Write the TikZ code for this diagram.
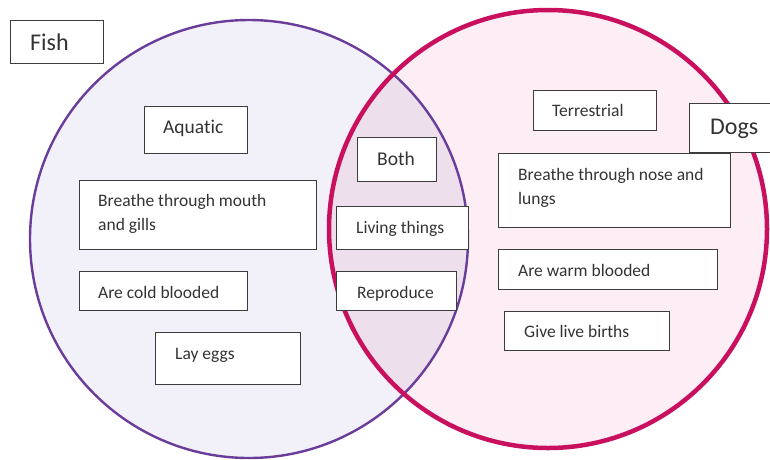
\documentclass[tikz,border=0pt]{standalone}
\usepackage{fontspec}
\setmainfont[Ligatures=NoCommon]{Carlito}
\definecolor{fishline}{HTML}{6A3D9A}
\definecolor{dogline}{HTML}{C8105F}
\definecolor{fishfill}{HTML}{F2F0F8}
\definecolor{dogfill}{HTML}{FCEEF4}
\definecolor{bothfill}{HTML}{EDE0EC}
\definecolor{boxline}{HTML}{3C3C3C}
\definecolor{txt}{HTML}{333333}
\begin{document}
\begin{tikzpicture}[x=1pt,y=-1pt,
  box/.style={draw=boxline, fill=white, line width=1.1pt, inner sep=0pt, anchor=north west},
  lbl/.style={anchor=west, inner sep=0pt, text=txt, text height=0.63em, text depth=0pt, yshift=-3pt, font=\fontsize{17.5}{21}\selectfont},
  mlbl/.style={anchor=west, inner sep=0pt, text=txt, align=left, yshift=-2pt, font=\fontsize{17.5}{24}\selectfont},
  mid/.style={lbl, font=\fontsize{19.5}{23}\selectfont},
  big/.style={lbl, font=\fontsize{24}{28}\selectfont}]
\useasboundingbox (0,0) rectangle (770,459);
\fill[white] (0,0) rectangle (770,459);
% circles
\fill[fishfill] (249,239) circle[radius=219pt];
\fill[dogfill] (548,229) circle[radius=219pt];
\begin{scope}
  \clip (249,239) circle[radius=219pt];
  \fill[bothfill] (548,229) circle[radius=219pt];
\end{scope}
\draw[fishline, line width=2.4pt] (249,239) circle[radius=219pt];
\draw[dogline, line width=4.5pt] (548,229) circle[radius=219pt];
% boxes
\node[box, minimum width=93pt, minimum height=43pt] (fishbox) at (10,20) {};
\node[big] (fish) at (30,44) {Fish};
\node[box, minimum width=103pt, minimum height=47pt] (aqbox) at (144,106) {};
\node[mid] (aq) at (163,127) {Aquatic};
\node[box, minimum width=237pt, minimum height=69pt] (mouthbox) at (79,180) {};
\node[mlbl] (mouth) at (98,212) {Breathe through mouth\\and gills};
\node[box, minimum width=168pt, minimum height=39pt] (coldbox) at (79,271) {};
\node[lbl] (cold) at (98,292) {Are cold blooded};
\node[box, minimum width=145pt, minimum height=52pt] (eggbox) at (155,332) {};
\node[lbl] (egg) at (175,353) {Lay eggs};
\node[box, minimum width=79pt, minimum height=44pt] (bothbox) at (357,137) {};
\node[mid] (both) at (377,159) {Both};
\node[box, minimum width=132pt, minimum height=43pt] (livebox) at (336,206) {};
\node[lbl] (live) at (356,227) {Living things};
\node[box, minimum width=120pt, minimum height=39pt] (repbox) at (336,271) {};
\node[lbl] (rep) at (357,292) {Reproduce};
\node[box, minimum width=123pt, minimum height=40pt] (terbox) at (533,90) {};
\node[lbl] (ter) at (552,110) {Terrestrial};
\node[box, minimum width=90pt, minimum height=49pt] (dogbox) at (689,103) {};
\node[big] (dog) at (710,128) {Dogs};
\node[box, minimum width=232pt, minimum height=74pt] (nosebox) at (498,153) {};
\node[mlbl] (nose) at (518,186) {Breathe through nose and\\lungs};
\node[box, minimum width=219pt, minimum height=40pt] (warmbox) at (498,249) {};
\node[lbl] (warm) at (518,270) {Are warm blooded};
\node[box, minimum width=165pt, minimum height=39pt] (birthbox) at (504,311) {};
\node[lbl] (birth) at (524,331) {Give live births};
\end{tikzpicture}
\end{document}
